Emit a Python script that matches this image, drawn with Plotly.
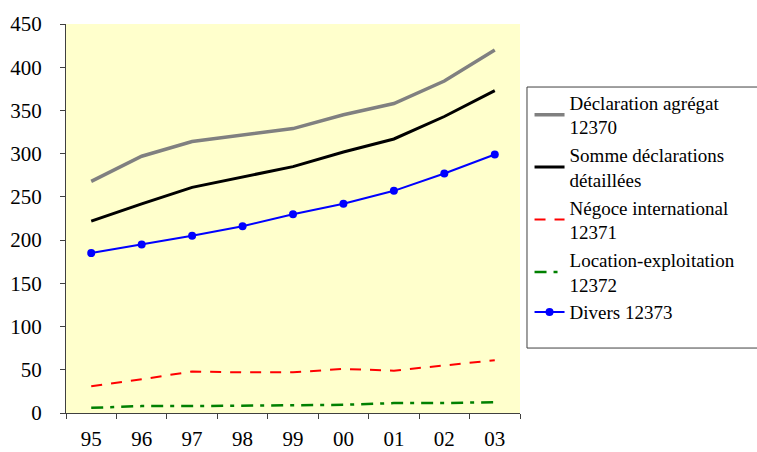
import plotly.graph_objects as go

years = ["95", "96", "97", "98", "99", "00", "01", "02", "03"]
agregat = [268, 297, 314, 322, 329, 345, 358, 384, 420]
somme = [222, 242, 261, 273, 285, 302, 317, 343, 373]
negoce = [31, 39, 48, 47, 47, 51, 49, 55, 61]
location = [6, 8, 8, 8.5, 8.5, 9.5, 11.5, 11.5, 12.5]
divers = [185, 195, 205, 216, 230, 242, 257, 277, 299]
y_ticks = [0, 50, 100, 150, 200, 250, 300, 350, 400, 450]

font = "Times New Roman, Liberation Serif, DejaVu Serif, serif"

fig = go.Figure()
fig.add_trace(go.Scatter(x=years, y=agregat, mode="lines", name="Déclaration agrégat<br>12370",
                         line=dict(color="#808080", width=3.5), legendgroup="a"))
fig.add_trace(go.Scatter(x=years, y=somme, mode="lines", name="Somme déclarations<br>détaillées",
                         line=dict(color="black", width=3), legendgroup="b"))
fig.add_trace(go.Scatter(x=years, y=negoce, mode="lines", name="Négoce international<br>12371",
                         line=dict(color="red", width=2, dash="11px,9px"), legendgroup="c"))
fig.add_trace(go.Scatter(x=years, y=location, mode="lines", name="Location-exploitation<br>12372",
                         line=dict(color="green", width=2.5, dash="12px,7px,4px,7px"), legendgroup="d"))
fig.add_trace(go.Scatter(x=years, y=divers, mode="lines+markers", name="Divers 12373",
                         line=dict(color="blue", width=2), marker=dict(size=8, color="blue"),
                         legendgroup="e"))

fig.update_layout(
    width=757, height=452,
    margin=dict(l=66, r=237, t=24, b=39, autoexpand=False),
    paper_bgcolor="white", plot_bgcolor="#FFFFCC",
    font=dict(family=font, size=21, color="black"),
    showlegend=True,
    legend=dict(x=1.021, y=0.847, xanchor="left", yanchor="top",
                borderwidth=0, bgcolor="rgba(0,0,0,0)",
                font=dict(family=font, size=19), tracegroupgap=0,
                itemwidth=30, traceorder="normal"),
    shapes=[dict(type="rect", xref="paper", yref="paper",
                 x0=1.0154, x1=1.53, y0=0.167, y1=0.838,
                 line=dict(color="#404040", width=1), fillcolor="rgba(0,0,0,0)",
                 layer="below")],
)
fig.update_xaxes(type="category", showline=True, linecolor="#404040", linewidth=1,
                 ticks="outside", ticklen=5, tickcolor="#404040", tickson="boundaries",
                 showgrid=False, zeroline=False, range=[-0.5, 8.5], ticklabelstandoff=7,
                 automargin=False)
fig.update_yaxes(range=[0, 450], tickvals=y_ticks, showline=True, linecolor="#404040",
                 linewidth=1, ticks="outside", ticklen=5, tickcolor="#404040",
                 showgrid=False, zeroline=False, automargin=False, ticklabelstandoff=14)

fig.write_html("out.html", config={"displayModeBar": False},
               post_script="document.body.style.margin='0';")
